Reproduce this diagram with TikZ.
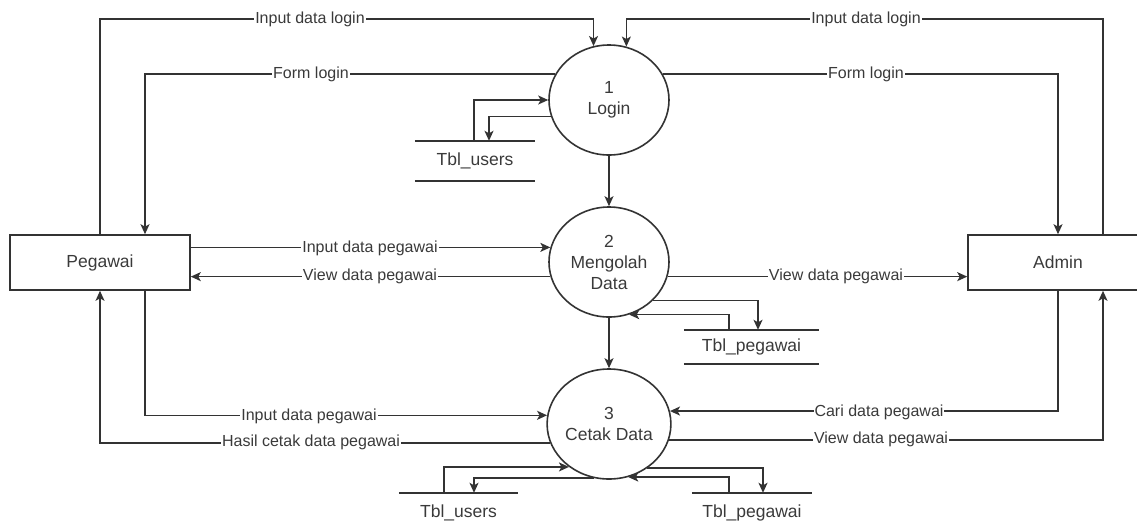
\documentclass[tikz,border=0pt]{standalone}
\usepackage{fontspec}
\setmainfont{Liberation Sans}
\usetikzlibrary{arrows.meta,shapes.geometric}
\definecolor{ink}{HTML}{333333}
\definecolor{txt}{HTML}{3a3a3a}
\tikzset{
  proc/.style={ellipse, draw=ink, line width=1.6pt, minimum width=120pt,
    minimum height=110pt, inner sep=0pt, align=center, text=txt,
    font=\fontsize{17.5}{21}\selectfont},
  entity/.style={rectangle, draw=ink, line width=1.6pt, minimum width=180pt,
    minimum height=55pt, text=txt, font=\fontsize{17.5}{21}\selectfont},
  datastore/.style={rectangle, inner sep=0pt, text=txt,
    font=\fontsize{17.5}{21}\selectfont},
  link/.style={draw=ink, line width=1.5pt},
  flow/.style={link, -{Stealth[length=10pt,width=9pt,inset=2.5pt]}},
  flowlabel/.style={fill=white, inner sep=1pt, text=txt,
    font=\fontsize{16}{19}\selectfont},
}
\begin{document}
\begin{tikzpicture}[x=1pt,y=-1pt]
\clip (0,0) rectangle (1137,531);

% processes
\node[proc] (c1) at (609,100) {1\\Login};
\node[proc] (c2) at (609,262) {2\\Mengolah\\Data};
\node[proc] (c3) at (609,424) {3\\Cetak Data};

% external entities
\node[entity] (peg) at (100,262.5) {Pegawai};
\node[entity] (adm) at (1058,262.5) {Admin};

% data stores
\node[datastore, minimum width=120pt, minimum height=40pt] (st1) at (475,161) {Tbl\_users};
\node[datastore, minimum width=135pt, minimum height=34pt] (st2) at (751.5,347) {Tbl\_pegawai};
\node[datastore, minimum width=119pt, minimum height=40pt] (st3) at (458.5,513) {Tbl\_users};
\node[datastore, minimum width=120pt, minimum height=40pt] (st4) at (752,513) {Tbl\_pegawai};
\foreach \s in {st1,st2,st3,st4}
  \draw[link] (\s.north west) -- (\s.north east) (\s.south west) -- (\s.south east);

% login flows
\draw[flow] (peg.north) |- (c1.106 |- 0,19) -- (c1.106);
\draw[flow] (c1.154) -| (peg.north -| 145,0);
\draw[flow] (adm.north -| 1103,0) |- (c1.72 |- 0,19) -- (c1.72);
\draw[flow] (c1.26) -| (adm.north);
\draw[flow] (st1.north -| 474,0) |- (c1.west);
\draw[flow] (c1.196) -| (st1.north -| 489,0);

% processing flows
\draw[flow] (c1.south) -- (c2.north);
\draw[flow] (peg.east |- c2.166) -- (c2.166);
\draw[flow] (c2.194) -- (peg.east |- c2.194);
\draw[flow] (c2.346) -- (adm.west |- c2.346);
\draw[flow] (c2.319) -| (st2.north -| 758,0);
\draw[flow] (st2.north -| 729,0) |- (c2.291);

% printing flows
\draw[flow] (c2.south) -- (c3.north);
\draw[flow] (peg.south -| 145,0) |- (c3.172);
\draw[flow] (c3.198) -| (peg.south);
\draw[flow] (adm.south) |- (c3.12);
\draw[flow] (c3.345) -| (adm.south -| 1103,0);
\draw[flow] (st3.north -| 444,0) |- (c3.227);
\draw[flow] (c3.254) -| (st3.north -| 474,0);
\draw[flow] (c3.311) -| (st4.north -| 763,0);
\draw[flow] (st4.north -| 729,0) |- (c3.290);

% flow labels
\node[flowlabel] (l1) at (310,19) {Input data login};
\node[flowlabel] (l2) at (311,74) {Form login};
\node[flowlabel] (l3) at (866,19) {Input data login};
\node[flowlabel] (l4) at (866,74) {Form login};
\node[flowlabel] (l5) at (370,248) {Input data pegawai};
\node[flowlabel] (l6) at (370,276) {View data pegawai};
\node[flowlabel] (l7) at (836,276) {View data pegawai};
\node[flowlabel] (l8) at (309,416) {Input data pegawai};
\node[flowlabel] (l9) at (311,442) {Hasil cetak data pegawai};
\node[flowlabel] (l10) at (879,412) {Cari data pegawai};
\node[flowlabel] (l11) at (881,439) {View data pegawai};
\end{tikzpicture}
\end{document}
